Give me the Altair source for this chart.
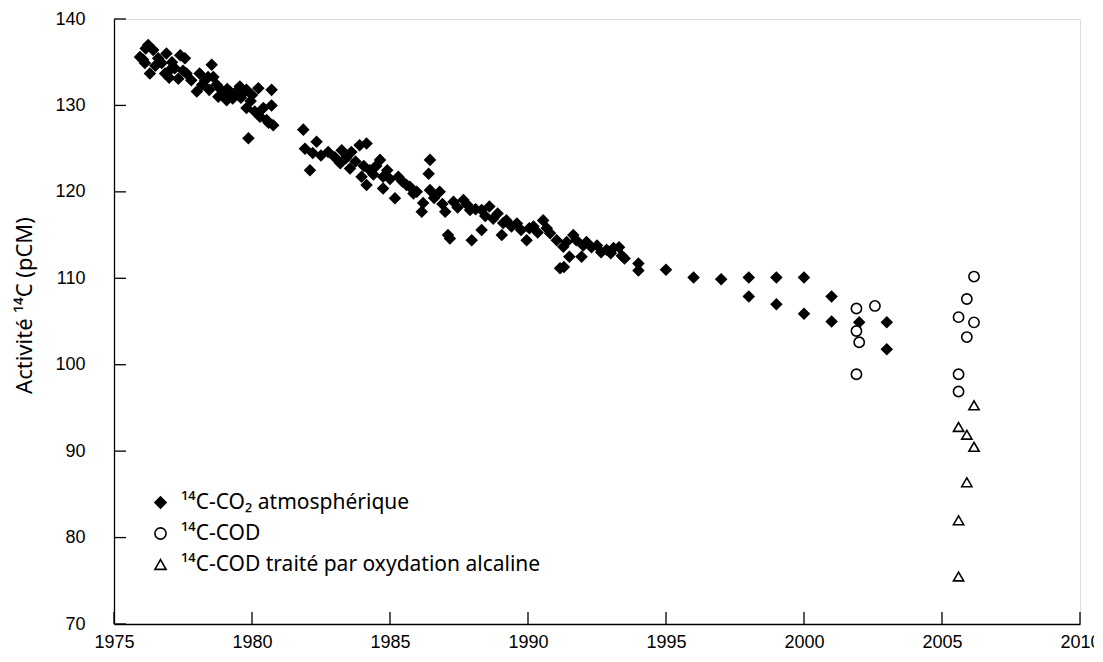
import altair as alt
import pandas as pd

# ---- data ----
co2_year = [
    1975.94, 1976.05, 1976.12, 1976.15, 1976.24, 1976.30, 1976.42, 1976.50, 1976.60, 1976.73,
    1976.85, 1976.90, 1977.00, 1977.03, 1977.10, 1977.20, 1977.33, 1977.40, 1977.50, 1977.57,
    1977.63, 1977.80, 1978.00, 1978.10, 1978.20, 1978.30, 1978.41, 1978.45, 1978.54, 1978.60,
    1978.72, 1978.78, 1978.85, 1978.96, 1979.08, 1979.10, 1979.20, 1979.30, 1979.38, 1979.50,
    1979.56, 1979.60, 1979.68, 1979.80, 1979.80, 1979.87, 1979.95, 1980.00, 1980.10, 1980.23,
    1980.29, 1980.41, 1980.53, 1980.60, 1980.71, 1980.71, 1980.77,
    1981.86, 1981.92, 1982.10, 1982.20, 1982.34, 1982.50, 1982.76, 1983.00, 1983.20, 1983.25,
    1983.40, 1983.55, 1983.60, 1983.75, 1983.90, 1983.97, 1984.05, 1984.15, 1984.15, 1984.27,
    1984.40, 1984.50, 1984.64, 1984.75, 1984.75, 1984.90, 1985.00, 1985.18, 1985.30, 1985.45,
    1985.60, 1985.72, 1985.85, 1985.97, 1986.15, 1986.20, 1986.40, 1986.45, 1986.45, 1986.60,
    1986.80, 1986.90, 1987.00, 1987.10, 1987.17, 1987.30, 1987.45, 1987.66, 1987.80, 1987.90,
    1987.96, 1988.10, 1988.32, 1988.32, 1988.45, 1988.60, 1988.74, 1988.90, 1989.05, 1989.10,
    1989.22, 1989.40, 1989.60, 1989.75, 1989.95, 1990.05, 1990.20, 1990.35, 1990.55, 1990.68,
    1990.80, 1991.04, 1991.16, 1991.28, 1991.30, 1991.40, 1991.50, 1991.64, 1991.75, 1991.94,
    1992.00, 1992.12, 1992.30, 1992.50, 1992.65, 1992.85, 1993.00, 1993.10, 1993.30, 1993.40,
    1993.50,
    1994.0, 1994.0, 1995.0, 1996.0, 1997.0, 1998.0, 1998.0, 1999.0, 1999.0, 2000.0,
    2000.0, 2001.0, 2001.0, 2002.0, 2003.0, 2003.0,
]
co2_val = [
    135.6, 135.3, 134.9, 136.6, 137.0, 133.7, 136.4, 134.6, 135.45, 134.9,
    133.7, 136.0, 133.2, 134.1, 135.0, 134.3, 133.1, 135.8, 134.0, 135.45,
    133.7, 132.9, 131.6, 133.7, 132.4, 132.9, 133.3, 131.8, 134.7, 133.3,
    132.4, 131.0, 131.9, 131.4, 130.6, 131.9, 131.6, 130.8, 131.2, 131.8,
    132.2, 130.9, 131.4, 131.8, 129.7, 126.2, 130.5, 131.2, 129.3, 132.0,
    128.7, 129.7, 128.3, 128.0, 131.8, 130.0, 127.7,
    127.2, 125.0, 122.5, 124.5, 125.8, 124.2, 124.6, 124.0, 123.3, 124.8,
    123.9, 122.7, 124.6, 123.5, 125.4, 121.75, 123.0, 125.6, 120.8, 122.5,
    122.0, 123.0, 123.7, 121.75, 120.4, 122.5, 121.5, 119.25, 121.75, 121.2,
    120.8, 120.6, 119.8, 120.0, 117.7, 118.7, 122.1, 123.7, 120.2, 119.3,
    120.0, 118.6, 117.7, 115.0, 114.6, 118.85, 118.2, 119.05, 118.5, 117.9,
    114.4, 118.0, 117.9, 115.6, 117.2, 118.3, 116.9, 117.5, 115.0, 116.4,
    116.7, 116.0, 116.35, 115.6, 114.4, 115.8, 116.0, 115.3, 116.7, 115.8,
    115.2, 114.4, 111.15, 113.65, 111.3, 114.2, 112.5, 115.0, 114.4, 112.5,
    113.8, 114.2, 113.6, 113.8, 113.0, 113.3, 112.9, 113.5, 113.6, 112.6,
    112.3,
    111.7, 110.9, 111.0, 110.1, 109.9, 110.1, 107.9, 110.1, 107.0, 110.1,
    105.9, 107.9, 105.0, 104.9, 104.9, 101.8,
]

cod_year = [2001.9, 2002.57, 2001.9, 2002.0, 2001.9, 2005.6, 2005.9, 2006.16, 2006.16, 2005.9, 2005.6, 2005.6]
cod_val = [106.5, 106.8, 103.9, 102.6, 98.9, 105.5, 107.6, 110.2, 104.9, 103.2, 98.9, 96.9]

codt_year = [2006.16, 2005.6, 2005.9, 2006.16, 2005.9, 2005.6, 2005.6]
codt_val = [95.3, 92.8, 91.9, 90.5, 86.4, 82.0, 75.5]

series_names = [
    "¹⁴C-CO₂ atmosphérique",
    "¹⁴C-COD",
    "¹⁴C-COD traité par oxydation alcaline",
]
x_ticks = [1975, 1980, 1985, 1990, 1995, 2000, 2005, 2010]
y_ticks = [70, 80, 90, 100, 110, 120, 130, 140]

df = pd.concat([
    pd.DataFrame({"year": co2_year, "val": co2_val, "series": series_names[0]}),
    pd.DataFrame({"year": cod_year, "val": cod_val, "series": series_names[1]}),
    pd.DataFrame({"year": codt_year, "val": codt_val, "series": series_names[2]}),
], ignore_index=True)

W, H = 966, 605
xs = alt.Scale(domain=[1975, 2010], nice=False, zero=False)
ys = alt.Scale(domain=[70, 140], nice=False, zero=False)

legend_spec = dict(
    title=None, orient="none", legendX=36, legendY=473,
    labelFont="Noto Sans", labelFontSize=21, labelColor="black", labelLimit=0,
    labelOffset=10, rowPadding=9, symbolSize=125,
    symbolStrokeWidth=1.6, padding=0,
)

x_axis = alt.Axis(
    values=x_ticks, format="d", ticks=False, tickSize=0, grid=False, title=None,
    labelPadding=9, labelFontSize=18, labelFont="Liberation Sans", labelColor="black",
    domain=True, domainColor="black", domainWidth=1.3, labelFlush=False)
y_axis = alt.Axis(
    values=y_ticks, format="d", ticks=False, tickSize=0, grid=False,
    title="Activité ¹⁴C (pCM)", titleFont="Noto Sans", titleFontSize=22,
    titleFontWeight="normal", titleColor="black",
    titleX=-90, titleY=286, titleAngle=270, titleAlign="center", titleBaseline="middle",
    labelPadding=29, labelFontSize=18, labelFont="Liberation Sans", labelColor="black",
    domain=True, domainColor="black", domainWidth=1.3, labelFlush=False)

points = alt.Chart(df).mark_point(filled=True, strokeWidth=1.6, size=105, opacity=1).encode(
    x=alt.X("year:Q", scale=xs, axis=x_axis),
    y=alt.Y("val:Q", scale=ys, axis=y_axis),
    shape=alt.Shape("series:N", scale=alt.Scale(domain=series_names, range=["diamond", "circle", "triangle-up"]),
                    legend=alt.Legend(**legend_spec)),
    fill=alt.Fill("series:N", scale=alt.Scale(domain=series_names, range=["black", "white", "white"]),
                  legend=alt.Legend(**legend_spec)),
    stroke=alt.Stroke("series:N", scale=alt.Scale(domain=series_names, range=["black", "black", "black"]),
                      legend=alt.Legend(**legend_spec)),
)

ticks_x = alt.Chart(pd.DataFrame({"year": x_ticks})).mark_rule(color="black", strokeWidth=1.3).encode(
    x=alt.X("year:Q", scale=xs, axis=x_axis),
    y=alt.value(H),
    y2=alt.value(H - 12),
)
ticks_y = alt.Chart(pd.DataFrame({"val": y_ticks})).mark_rule(color="black", strokeWidth=1.3).encode(
    y=alt.Y("val:Q", scale=ys, axis=y_axis),
    x=alt.value(0),
    x2=alt.value(12),
)

chart = alt.layer(points, ticks_x, ticks_y).properties(
    width=W, height=H,
    padding={"left": 106, "top": 11, "right": 14, "bottom": 29},
    autosize=alt.AutoSizeParams(type="none"),
).configure_view(stroke=None).configure(background="white")

chart.save("out.html", embed_options={"renderer": "svg", "actions": False})
